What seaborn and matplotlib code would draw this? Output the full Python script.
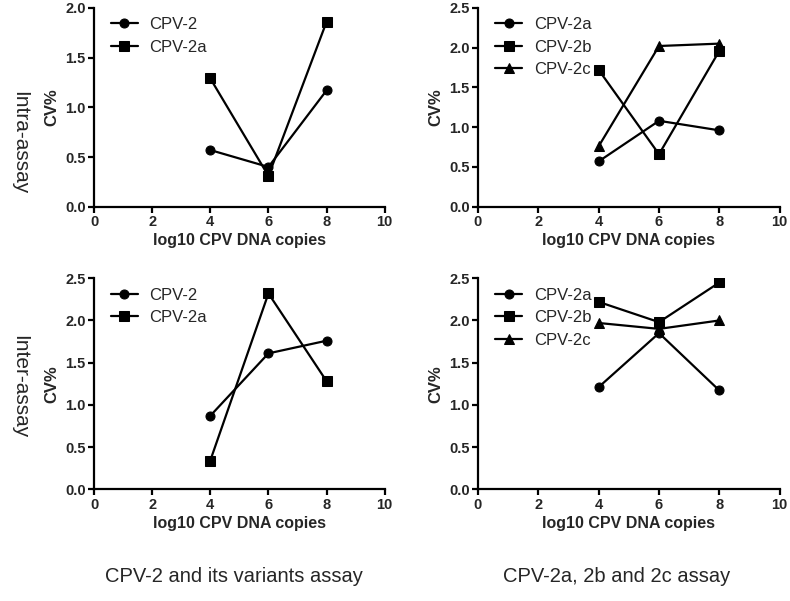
import matplotlib
matplotlib.use("Agg")
import matplotlib.pyplot as plt
import seaborn as sns
import pandas as pd

# log10 copies tested
copies = [4, 6, 8]

# intra-assay CV%
intra_cpv2 = [0.57, 0.40, 1.17]
intra_cpv2a_left = [1.29, 0.31, 1.86]
intra_cpv2a = [0.57, 1.08, 0.96]
intra_cpv2b = [1.72, 0.66, 1.96]
intra_cpv2c = [0.76, 2.02, 2.05]

# inter-assay CV%
inter_cpv2 = [0.87, 1.61, 1.76]
inter_cpv2a_left = [0.34, 2.32, 1.28]
inter_cpv2a = [1.21, 1.85, 1.17]
inter_cpv2b = [2.22, 1.98, 2.45]
inter_cpv2c = [1.97, 1.90, 2.00]

sns.set_theme(style="ticks")
plt.rcParams["font.family"] = ["Liberation Sans", "DejaVu Sans"]

fig = plt.figure(figsize=(7.9, 6.01), dpi=100)
ax_tl = fig.add_axes([0.119, 0.656, 0.368, 0.331])
ax_tr = fig.add_axes([0.605, 0.656, 0.382, 0.331])
ax_bl = fig.add_axes([0.119, 0.186, 0.368, 0.351])
ax_br = fig.add_axes([0.605, 0.186, 0.382, 0.351])


def draw(ax, series, ymax):
    for name, vals, mk in series:
        df = pd.DataFrame({"x": copies, "y": vals})
        sns.lineplot(data=df, x="x", y="y", ax=ax, color="black", lw=1.6,
                     marker=mk, markersize=6.5 if mk != "^" else 7,
                     markeredgecolor="black", label=name)
    ax.set_xlim(0, 10)
    ax.set_ylim(0, ymax)
    ax.set_xticks([0, 2, 4, 6, 8, 10])
    ax.set_yticks([i * 0.5 for i in range(int(ymax / 0.5) + 1)])
    ax.yaxis.set_major_formatter(matplotlib.ticker.FormatStrFormatter("%.1f"))
    for lab in ax.get_xticklabels() + ax.get_yticklabels():
        lab.set_fontweight("bold")
        lab.set_fontsize(10.5)
    ax.tick_params(width=1.6, length=4, color="black", pad=2)
    for s in ["left", "bottom"]:
        ax.spines[s].set_linewidth(1.6)
        ax.spines[s].set_color("black")
    sns.despine(ax=ax)
    ax.set_xlabel("log10 CPV DNA copies", fontsize=11.5, fontweight="bold", labelpad=3)
    ax.set_ylabel("CV%", fontsize=12, fontweight="bold", labelpad=4)
    ax.legend(loc="upper left", frameon=False, fontsize=12, handlelength=1.6,
              borderaxespad=0.1, labelspacing=0.45, handletextpad=0.7,
              bbox_to_anchor=(0.03, 0.995))


draw(ax_tl, [("CPV-2", intra_cpv2, "o"), ("CPV-2a", intra_cpv2a_left, "s")], 2.0)
draw(ax_tr, [("CPV-2a", intra_cpv2a, "o"), ("CPV-2b", intra_cpv2b, "s"),
             ("CPV-2c", intra_cpv2c, "^")], 2.5)
draw(ax_bl, [("CPV-2", inter_cpv2, "o"), ("CPV-2a", inter_cpv2a_left, "s")], 2.5)
draw(ax_br, [("CPV-2a", inter_cpv2a, "o"), ("CPV-2b", inter_cpv2b, "s"),
             ("CPV-2c", inter_cpv2c, "^")], 2.5)

fig.text(0.025, 0.762, "Intra-assay", rotation=270, va="center", ha="center", fontsize=15)
fig.text(0.025, 0.356, "Inter-assay", rotation=270, va="center", ha="center", fontsize=15)
fig.text(0.296, 0.04, "CPV-2 and its variants assay", ha="center", va="center", fontsize=14.5)
fig.text(0.781, 0.04, "CPV-2a, 2b and 2c assay", ha="center", va="center", fontsize=14.5)

fig.savefig("out.png", dpi=100)
